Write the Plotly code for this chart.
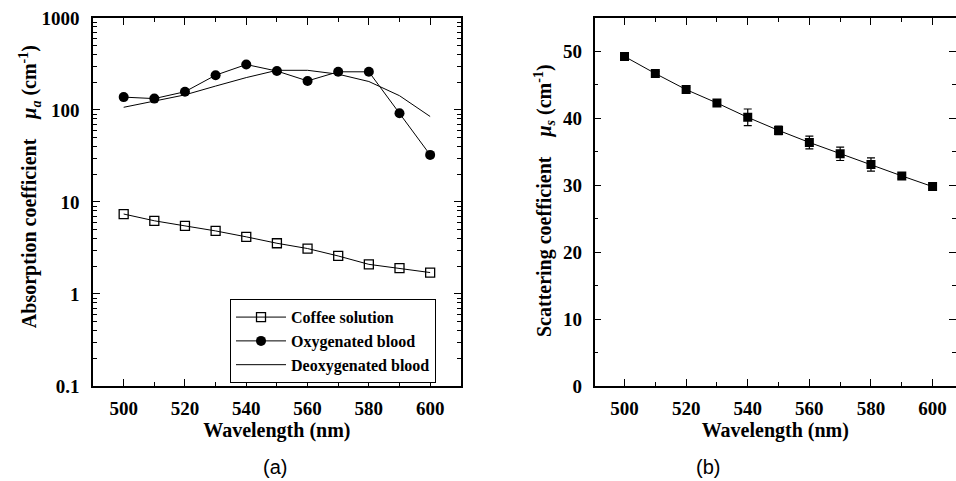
import plotly.graph_objects as go

wavelength = [500, 510, 520, 530, 540, 550, 560, 570, 580, 590, 600]
coffee = [7.4, 6.25, 5.5, 4.85, 4.18, 3.56, 3.12, 2.59, 2.1, 1.91, 1.71]
oxy_blood = [138, 133, 158, 239, 312, 265, 207, 260, 260, 92, 32.5]
deoxy_blood = [107, 124, 146, 182, 225, 270, 270, 245, 204, 143, 85]
scattering = [49.25, 46.7, 44.3, 42.3, 40.15, 38.2, 36.4, 34.7, 33.1, 31.4, 29.8]
scattering_err = [0.3, 0.3, 0.3, 0.4, 1.25, 0.65, 0.95, 1.0, 1.0, 0.4, 0.3]

log_tick_vals = [0.1, 1, 10, 100, 1000]
log_tick_text = ["0.1", "1", "10", "100", "1000"]
log_minor_vals = [m * d for d in [0.1, 1, 10, 100] for m in range(2, 10)]
x_tick_vals = [500, 520, 540, 560, 580, 600]
lin_tick_vals = [0, 10, 20, 30, 40, 50]

SERIF = "Liberation Serif"
tickfont = dict(family=SERIF, size=19, color="black", weight="bold")
titlefont = dict(family=SERIF, size=20, color="black")

fig = go.Figure()

fig.add_trace(go.Scatter(
    x=wavelength, y=coffee, name="Coffee solution", mode="lines+markers",
    line=dict(color="black", width=1),
    marker=dict(symbol="square-open", size=9, color="black", line=dict(width=1.3)),
    xaxis="x", yaxis="y"))
fig.add_trace(go.Scatter(
    x=wavelength, y=oxy_blood, name="Oxygenated blood", mode="lines+markers",
    line=dict(color="black", width=1),
    marker=dict(symbol="circle", size=10, color="black"),
    xaxis="x", yaxis="y"))
fig.add_trace(go.Scatter(
    x=wavelength, y=deoxy_blood, name="Deoxygenated blood", mode="lines",
    line=dict(color="black", width=1),
    xaxis="x", yaxis="y"))
fig.add_trace(go.Scatter(
    x=wavelength, y=scattering, mode="lines+markers", showlegend=False,
    line=dict(color="black", width=1),
    marker=dict(symbol="square", size=9, color="black"),
    error_y=dict(type="data", array=scattering_err, color="black", thickness=1.2, width=4),
    xaxis="x2", yaxis="y2"))

common_axis = dict(
    showline=True, linecolor="black", linewidth=1.5, mirror="ticks",
    ticks="inside", ticklen=7, tickwidth=1.2, tickcolor="black",
    showgrid=False, zeroline=False, tickfont=tickfont, automargin=False,
)
x_minor = dict(dtick=10, tick0=500, ticks="inside", ticklen=4, tickcolor="black", showgrid=False)

fig.update_layout(
    width=956, height=481,
    margin=dict(l=0, r=0, t=0, b=0),
    paper_bgcolor="white", plot_bgcolor="white",
    xaxis=dict(common_axis, domain=[0.0973, 0.482], range=[490, 610],
               tickvals=x_tick_vals, anchor="y", ticklabelstandoff=4,
               minor=x_minor,
               title=dict(text="<b>Wavelength (nm)</b>", font=titlefont, standoff=2)),
    yaxis=dict(common_axis, type="log", domain=[0.1975, 0.9626], range=[-1, 3],
               tickvals=log_tick_vals, ticktext=log_tick_text, anchor="x",
               ticklabelstandoff=8,
               minor=dict(tickmode="array", tickvals=log_minor_vals, ticks="inside",
                          ticklen=4, tickcolor="black", showgrid=False)),
    xaxis2=dict(common_axis, domain=[0.622, 1.0], range=[490.3, 607.6],
                tickvals=x_tick_vals, anchor="y2", ticklabelstandoff=4,
                minor=x_minor,
                title=dict(text="<b>Wavelength (nm)</b>", font=titlefont, standoff=2)),
    yaxis2=dict(common_axis, domain=[0.1975, 0.9626], range=[0, 55],
                tickvals=lin_tick_vals, anchor="x2", ticklabelstandoff=7,
                minor=dict(dtick=5, ticks="inside", ticklen=4, tickcolor="black", showgrid=False)),
    legend=dict(x=0.2406, y=0.378, xanchor="left", yanchor="top",
                bordercolor="black", borderwidth=1, bgcolor="white",
                font=dict(family=SERIF, size=16, color="black", weight="bold"),
                tracegroupgap=0, itemwidth=50),
    annotations=[
        dict(text="<b>Absorption coefficient    <i>μ</i><sub><i>a</i></sub> (cm<sup>-1</sup>)</b>",
             x=0.0314, y=0.611, xref="paper", yref="paper", showarrow=False, textangle=-90,
             xanchor="center", yanchor="middle", font=titlefont),
        dict(text="<b>Scattering coefficient    <i>μ</i><sub><i>s</i></sub> (cm<sup>-1</sup>)</b>",
             x=0.570, y=0.584, xref="paper", yref="paper", showarrow=False, textangle=-90,
             xanchor="center", yanchor="middle", font=titlefont),
        dict(text="(a)", x=0.2735, y=0.029, xref="paper", yref="paper", showarrow=False,
             yanchor="middle", font=dict(family="Liberation Sans", size=20, color="black")),
        dict(text="(b)", x=0.755, y=0.029, xref="paper", yref="paper", showarrow=False,
             yanchor="middle", font=dict(family="Liberation Sans", size=20, color="black")),
    ],
)

fig.write_html("out.html", config={"displayModeBar": False},
               post_script="document.body.style.margin='0';")
